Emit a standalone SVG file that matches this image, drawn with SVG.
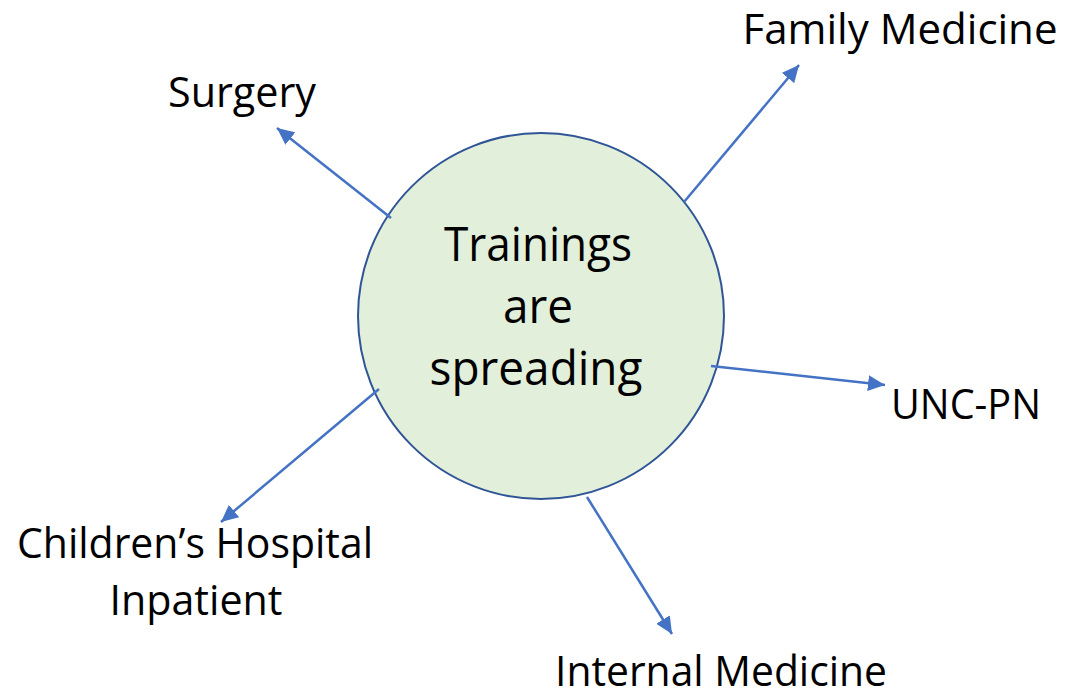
<svg xmlns="http://www.w3.org/2000/svg" width="1066" height="697" viewBox="0 0 1066 697">
<defs>
<style>
.lbl{font-family:"Open Sans","Liberation Sans",sans-serif;font-size:42px;fill:#000;text-anchor:middle}
.ctr{font-family:"Open Sans","Liberation Sans",sans-serif;font-size:48px;fill:#000;text-anchor:middle}
.conn{stroke:#4472C4;stroke-width:2.5;fill:none;marker-end:url(#ah)}
</style>
<marker id="ah" markerUnits="userSpaceOnUse" markerWidth="18" markerHeight="16" refX="17" refY="8" orient="auto">
<path d="M0,0 L17,8 L0,16 Z" fill="#4472C4"/>
</marker>
</defs>
<rect width="1066" height="697" fill="#fff"/>
<g id="center">
<circle cx="541" cy="316" r="183" fill="#E2EFDA" stroke="#2F5597" stroke-width="2"/>
<text class="ctr" x="538" y="261" textLength="188" lengthAdjust="spacingAndGlyphs">Trainings</text>
<text class="ctr" x="538" y="323" textLength="70" lengthAdjust="spacingAndGlyphs">are</text>
<text class="ctr" x="536" y="385" textLength="213" lengthAdjust="spacingAndGlyphs">spreading</text>
</g>
<g id="connectors">
<line class="conn" x1="391" y1="218" x2="277" y2="128"/>
<line class="conn" x1="684" y1="202" x2="799" y2="65"/>
<line class="conn" x1="711" y1="366" x2="885" y2="385"/>
<line class="conn" x1="379" y1="389" x2="221" y2="522"/>
<line class="conn" x1="587" y1="497" x2="672" y2="634"/>
</g>
<g id="surgery"><text class="lbl" x="242" y="107" textLength="148" lengthAdjust="spacingAndGlyphs">Surgery</text></g>
<g id="family-medicine"><text class="lbl" x="900" y="44" textLength="315" lengthAdjust="spacingAndGlyphs">Family Medicine</text></g>
<g id="unc-pn"><text class="lbl" x="966" y="419" textLength="150" lengthAdjust="spacingAndGlyphs">UNC-PN</text></g>
<g id="childrens-hospital">
<text class="lbl" x="195" y="558" textLength="356" lengthAdjust="spacingAndGlyphs">Children’s Hospital</text>
<text class="lbl" x="196" y="615" textLength="173" lengthAdjust="spacingAndGlyphs">Inpatient</text>
</g>
<g id="internal-medicine"><text class="lbl" x="721" y="686" textLength="332" lengthAdjust="spacingAndGlyphs">Internal Medicine</text></g>
</svg>
